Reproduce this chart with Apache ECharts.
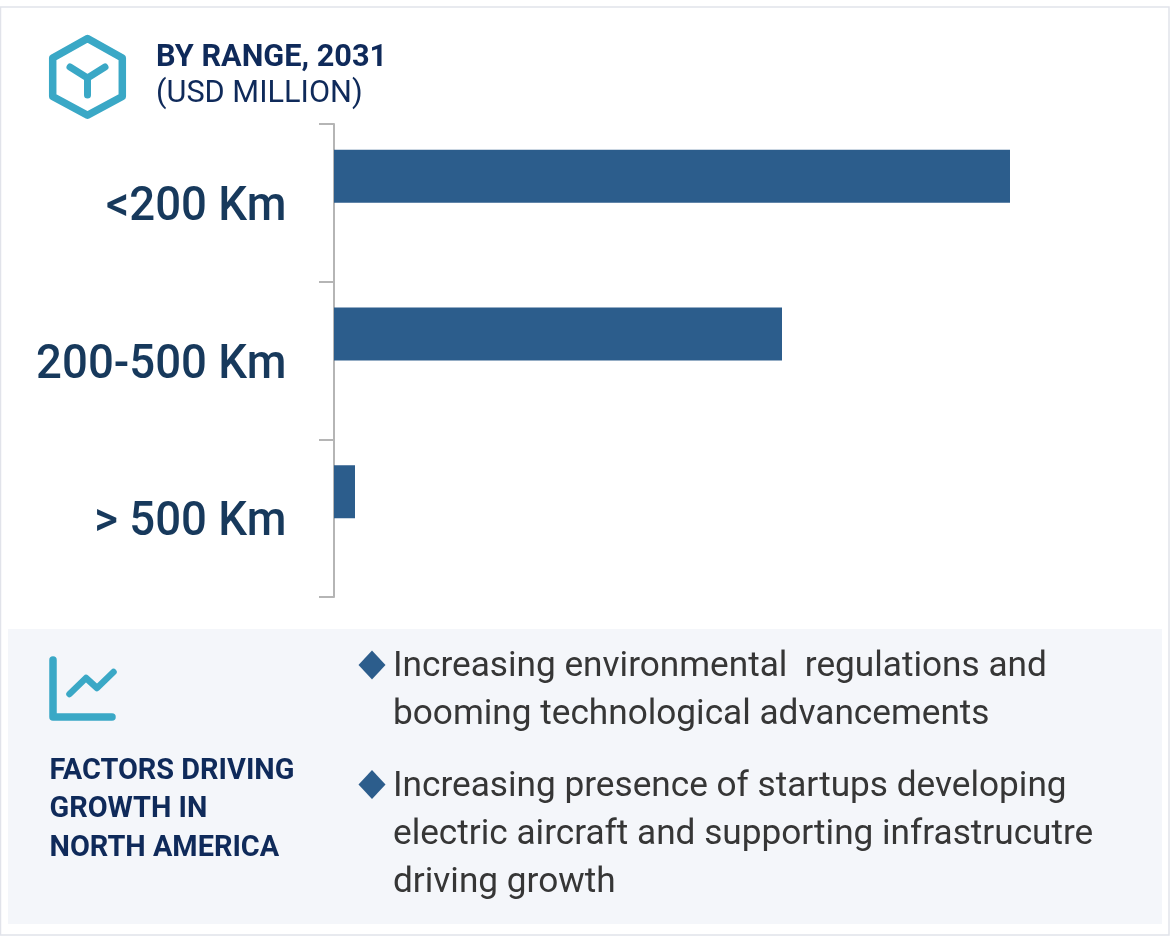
<!DOCTYPE html>
<html><head><meta charset="utf-8">
<style>html,body{margin:0;padding:0;background:#fff}#c{width:1170px;height:936px}</style>
<script src="https://cdn.jsdelivr.net/npm/echarts@6/dist/echarts.min.js"></script>
</head><body><div id="c"></div>
<script>
const categories = ['<200 Km', '200-500 Km', '> 500 Km'];
const values = [676, 448, 21];
const emptySeries = [null, null, null];
const titleLines = ['BY RANGE, 2031', '(USD MILLION)'];
const factorsTitle = ['FACTORS DRIVING', 'GROWTH IN', 'NORTH AMERICA'];
const bullets = [
  ['Increasing environmental  regulations and', 'booming technological advancements'],
  ['Increasing presence of startups developing', 'electric aircraft and supporting infrastrucutre', 'driving growth']
];
const chart = echarts.init(document.getElementById('c'), null, {renderer:'canvas'});
const teal='#3aa8c6', navy='#0f2a5a';
const g = [];
g.push({type:'rect',silent:true,shape:{x:0.5,y:7,width:1168.5,height:928},style:{fill:'#fff',stroke:'#e1e3ea',lineWidth:1.5}});
g.push({type:'rect',silent:true,shape:{x:8,y:629,width:1154,height:295},style:{fill:'#f4f6fa'}});
g.push({type:'polygon',shape:{points:[[87.5,38.5],[122.3,58],[122.3,96.5],[87.5,115.3],[52.7,96.5],[52.7,58]]},style:{fill:'none',stroke:teal,lineWidth:7.5,lineJoin:'round'}});
g.push({type:'polyline',shape:{points:[[70,67],[87.5,78],[105,67]]},style:{fill:'none',stroke:teal,lineWidth:7,lineCap:'round',lineJoin:'round'}});
g.push({type:'line',shape:{x1:87.5,y1:78,x2:87.5,y2:95},style:{stroke:teal,lineWidth:7,lineCap:'round'}});
titleLines.forEach((t,i)=>g.push({type:'text',style:{text:t,x:156,y:58.5+i*36,verticalAlign:'middle',fill:navy,font:(i?'400':'700')+' 30.7px Roboto'}}));
g.push({type:'polyline',shape:{points:[[53,660],[53,717],[112,717]]},style:{fill:'none',stroke:teal,lineWidth:7.5,lineCap:'round',lineJoin:'round'}});
g.push({type:'polyline',shape:{points:[[69.5,694],[86,678],[97,688],[113.5,672]]},style:{fill:'none',stroke:teal,lineWidth:6.5,lineCap:'round',lineJoin:'round'}});
factorsTitle.forEach((t,i)=>g.push({type:'text',style:{text:t,x:49.5,y:771.5+i*38.5,verticalAlign:'middle',fill:navy,font:'700 28.9px Roboto'}}));
const ys=[[667,715],[787.5,835.5,883]];
const diamondY=[665,784.5];
bullets.forEach((b,i)=>{
  const cy=diamondY[i];
  g.push({type:'polygon',shape:{points:[[372,cy-14.5],[385.5,cy],[372,cy+14.5],[358.5,cy]]},style:{fill:'#2c5d8c'}});
  b.forEach((t,j)=>g.push({type:'text',style:{text:t,x:393,y:ys[i][j],verticalAlign:'middle',fill:'#363636',font:'400 35.2px Roboto'}}));
});
const option = {
  animation:false,
  grid:{left:334,top:124,width:700,height:473,containLabel:false},
  xAxis:{type:'value',min:0,max:700,show:false},
  yAxis:{type:'category',inverse:true,data:categories,offset:1,
    axisLine:{show:true,lineStyle:{color:'#b5b5b5',width:2}},
    axisTick:{show:true,length:15,lineStyle:{color:'#b5b5b5',width:2}},
    axisLabel:{show:false}},
  series:[
    {type:'bar',data:values,barWidth:53,barGap:0,itemStyle:{color:'#2c5d8c'}},
    {type:'bar',data:emptySeries,barWidth:53,barGap:0}
  ]
};
chart.setOption(option);
// category labels are condensed in the reference: placed from the axis scale
categories.forEach((c,i)=>{
  const cy=chart.convertToPixel({yAxisIndex:0},c);
  g.push({type:'text',x:286.5,y:cy+5,scaleX:0.93,style:{text:c,x:0,y:0,align:'right',verticalAlign:'middle',fill:'#17395c',font:'500 49px Roboto'}});
});
chart.setOption({graphic:{elements:g}});
</script></body></html>
